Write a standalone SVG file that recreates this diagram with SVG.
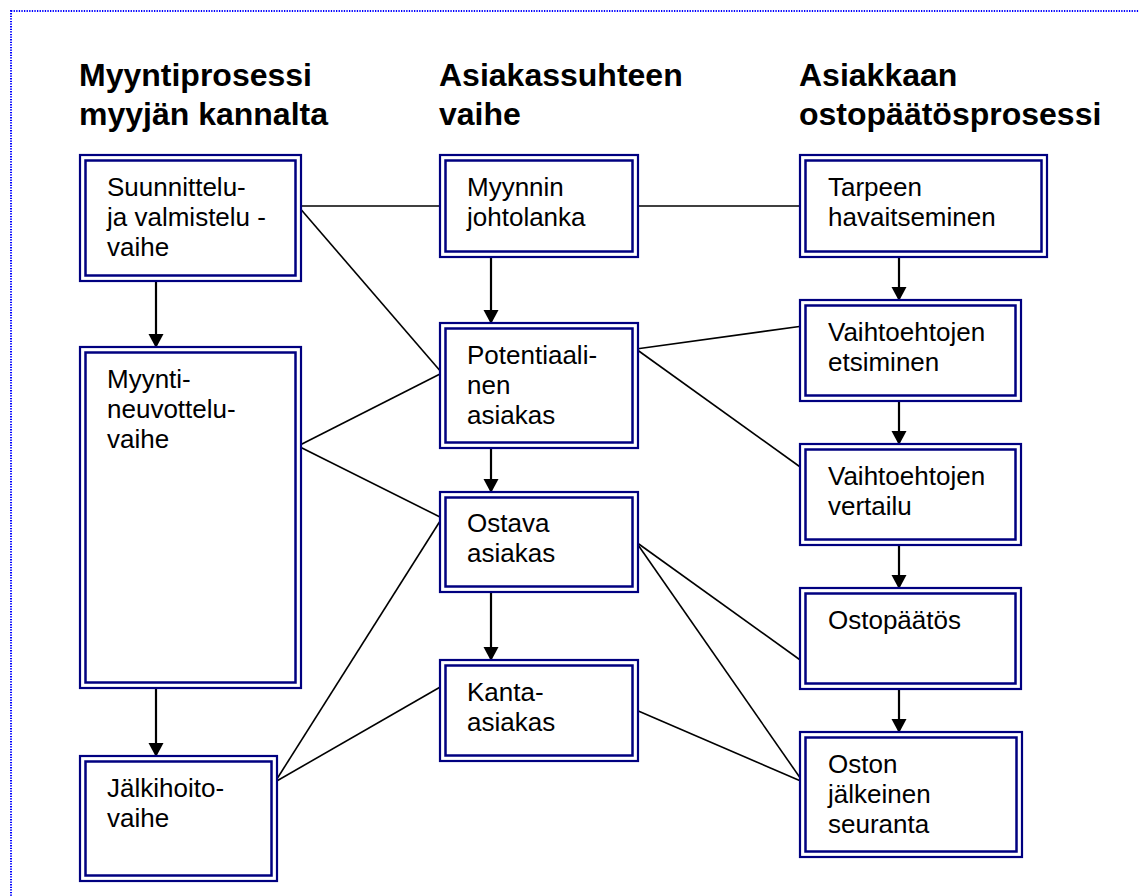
<svg xmlns="http://www.w3.org/2000/svg" width="1139" height="896" viewBox="0 0 1139 896">
<style>
.bg{fill:#ffffff}
.frame{fill:none;stroke:#0000ff;stroke-width:2;stroke-dasharray:1.3 1.3}
.outer{fill:#ffffff;stroke:#000080;stroke-width:2.2}
.inner{fill:none;stroke:#000080;stroke-width:2.5}
.t{font-family:"Liberation Sans",Arial,sans-serif;font-size:26px;fill:#000000}
.h{font-family:"Liberation Sans",Arial,sans-serif;font-size:32px;font-weight:bold;fill:#000000}
.ln{stroke:#000000;stroke-width:1.6;fill:none}
.ar{stroke:#000000;stroke-width:2.2;fill:none;marker-end:url(#ah)}
</style>
<defs>
<marker id="ah" markerUnits="userSpaceOnUse" markerWidth="14" markerHeight="16" viewBox="0 0 14 16" refX="14" refY="8" orient="auto">
<path d="M0,0.5 L14,8 L0,15.5 z" fill="#000000"/>
</marker>
</defs>
<rect class="bg" x="0" y="0" width="1139" height="896"/>
<rect class="frame" x="11" y="11" width="1200" height="1000"/>

<g id="headers">
<text class="h" x="79" y="86">Myyntiprosessi</text>
<text class="h" x="79" y="124.5">myyjän kannalta</text>
<text class="h" x="439" y="86">Asiakassuhteen</text>
<text class="h" x="439" y="124.5">vaihe</text>
<text class="h" x="799" y="86">Asiakkaan</text>
<text class="h" x="799" y="124.5">ostopäätösprosessi</text>
</g>

<g id="connectors">
<line class="ln" x1="298" y1="206" x2="442" y2="206"/>
<line class="ln" x1="298" y1="206" x2="442" y2="373"/>
<line class="ln" x1="636" y1="206" x2="803" y2="206"/>
<line class="ln" x1="298" y1="446" x2="442" y2="373"/>
<line class="ln" x1="298" y1="446" x2="442" y2="518"/>
<line class="ln" x1="275" y1="782" x2="442" y2="518"/>
<line class="ln" x1="275" y1="782" x2="442" y2="686"/>
<line class="ln" x1="636" y1="349" x2="803" y2="326"/>
<line class="ln" x1="636" y1="349" x2="803" y2="469"/>
<line class="ln" x1="636" y1="542" x2="803" y2="662"/>
<line class="ln" x1="636" y1="542" x2="803" y2="782"/>
<line class="ln" x1="636" y1="710" x2="803" y2="782"/>
<line class="ar" x1="156" y1="282" x2="156" y2="348"/>
<line class="ar" x1="156" y1="689" x2="156" y2="757"/>
<line class="ar" x1="491" y1="258" x2="491" y2="324"/>
<line class="ar" x1="491" y1="449" x2="491" y2="493"/>
<line class="ar" x1="491" y1="593" x2="491" y2="661"/>
<line class="ar" x1="899" y1="258" x2="899" y2="301"/>
<line class="ar" x1="899" y1="402" x2="899" y2="445"/>
<line class="ar" x1="899" y1="546" x2="899" y2="589"/>
<line class="ar" x1="899" y1="690" x2="899" y2="733"/>
</g>

<g id="n-suunnittelu">
<rect class="outer" x="80" y="155" width="221" height="126"/>
<rect class="inner" x="85.5" y="160.5" width="210" height="115"/>
<text class="t" x="107" y="196">Suunnittelu-</text>
<text class="t" x="107" y="226">ja valmistelu -</text>
<text class="t" x="107" y="256">vaihe</text>
</g>
<g id="n-myyntineuvottelu">
<rect class="outer" x="80" y="347" width="221" height="341"/>
<rect class="inner" x="85.5" y="352.5" width="210" height="330"/>
<text class="t" x="107" y="388">Myynti-</text>
<text class="t" x="107" y="418">neuvottelu-</text>
<text class="t" x="107" y="448">vaihe</text>
</g>
<g id="n-jalkihoito">
<rect class="outer" x="80" y="756" width="197" height="125"/>
<rect class="inner" x="85.5" y="761.5" width="186" height="114"/>
<text class="t" x="107" y="797">Jälkihoito-</text>
<text class="t" x="107" y="827">vaihe</text>
</g>
<g id="n-myynnin">
<rect class="outer" x="440" y="155" width="198" height="102"/>
<rect class="inner" x="445.5" y="160.5" width="187" height="91"/>
<text class="t" x="467" y="196">Myynnin</text>
<text class="t" x="467" y="226">johtolanka</text>
</g>
<g id="n-potentiaalinen">
<rect class="outer" x="440" y="323" width="198" height="125"/>
<rect class="inner" x="445.5" y="328.5" width="187" height="114"/>
<text class="t" x="467" y="364">Potentiaali-</text>
<text class="t" x="467" y="394">nen</text>
<text class="t" x="467" y="424">asiakas</text>
</g>
<g id="n-ostava">
<rect class="outer" x="440" y="492" width="198" height="100"/>
<rect class="inner" x="445.5" y="497.5" width="187" height="89"/>
<text class="t" x="467" y="532">Ostava</text>
<text class="t" x="467" y="562">asiakas</text>
</g>
<g id="n-kanta">
<rect class="outer" x="440" y="660" width="198" height="101"/>
<rect class="inner" x="445.5" y="665.5" width="187" height="90"/>
<text class="t" x="467" y="701">Kanta-</text>
<text class="t" x="467" y="731">asiakas</text>
</g>
<g id="n-tarpeen">
<rect class="outer" x="800" y="155" width="247" height="102"/>
<rect class="inner" x="805.5" y="160.5" width="236" height="91"/>
<text class="t" x="828" y="196">Tarpeen</text>
<text class="t" x="828" y="226">havaitseminen</text>
</g>
<g id="n-etsiminen">
<rect class="outer" x="800" y="300" width="221" height="101"/>
<rect class="inner" x="805.5" y="305.5" width="210" height="90"/>
<text class="t" x="828" y="341">Vaihtoehtojen</text>
<text class="t" x="828" y="371">etsiminen</text>
</g>
<g id="n-vertailu">
<rect class="outer" x="800" y="444" width="221" height="101"/>
<rect class="inner" x="805.5" y="449.5" width="210" height="90"/>
<text class="t" x="828" y="485">Vaihtoehtojen</text>
<text class="t" x="828" y="515">vertailu</text>
</g>
<g id="n-ostopaatos">
<rect class="outer" x="800" y="588" width="221" height="101"/>
<rect class="inner" x="805.5" y="593.5" width="210" height="90"/>
<text class="t" x="828" y="629">Ostopäätös</text>
</g>
<g id="n-oston">
<rect class="outer" x="800" y="732" width="222" height="125"/>
<rect class="inner" x="805.5" y="737.5" width="211" height="114"/>
<text class="t" x="828" y="773">Oston</text>
<text class="t" x="828" y="803">jälkeinen</text>
<text class="t" x="828" y="833">seuranta</text>
</g>
</svg>
